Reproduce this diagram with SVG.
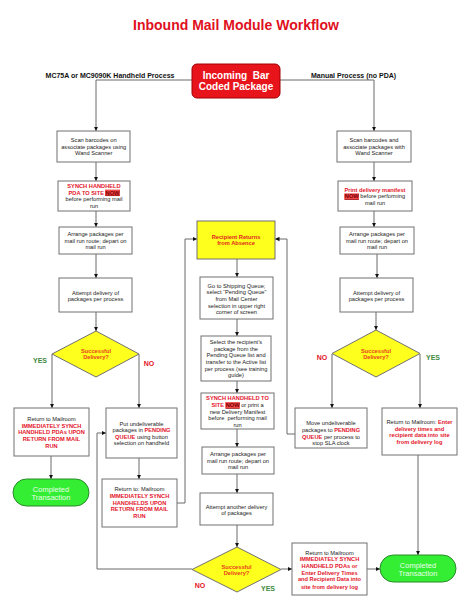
<svg xmlns="http://www.w3.org/2000/svg" width="474" height="607" viewBox="0 0 474 607">
<defs>
<marker id="ah" markerWidth="5" markerHeight="5" refX="4.5" refY="2.5" orient="auto" markerUnits="userSpaceOnUse"><path d="M0,0.3 L4.5,2.5 L0,4.7 Z" fill="#111"/></marker>
<style>
.box{fill:#fff;stroke:#707070;stroke-width:1}
.yel{fill:#ffff1e;stroke:#707070;stroke-width:1}
.pill{fill:#33ee33;stroke:#2a8a2a;stroke-width:1}
.t{font-family:"Liberation Sans",Arial,sans-serif;font-size:5.7px;fill:#222;text-anchor:middle}
.r{fill:#e3142a;font-weight:bold}
.o{fill:#e8401c;font-weight:bold}
.b{font-weight:bold}
.now{fill:#7a0000;font-weight:bold;text-decoration:underline}
.hl{fill:#f04848}
.pt{font-family:"Liberation Sans",Arial,sans-serif;font-size:7.5px;fill:#eaffea;text-anchor:middle}
.lab{font-family:"Liberation Sans",Arial,sans-serif;font-size:7px;font-weight:bold;text-anchor:middle}
.yes{fill:#3d8a3d}
.no{fill:#e3142a}
#connectors path{fill:none;stroke:#6a6a6a;stroke-width:1}
</style>
</defs>
<rect width="474" height="607" fill="#fff"/>
<text x="236" y="30" font-family="Liberation Sans,Arial,sans-serif" font-size="14" font-weight="bold" fill="#e0101e" text-anchor="middle">Inbound Mail Module Workflow</text>
<text class="lab" x="110" y="77.5" fill="#111">MC75A or MC9090K Handheld Process</text>
<text class="lab" x="353.5" y="77.5" fill="#111">Manual Process (no PDA)</text>

<g id="connectors">
<path d="M192,80 H96 V131" marker-end="url(#ah)"/>
<path d="M280,80 H374 V131" marker-end="url(#ah)"/>
<path d="M96,162 V181" marker-end="url(#ah)"/>
<path d="M96,211 V227" marker-end="url(#ah)"/>
<path d="M96,254 V278" marker-end="url(#ah)"/>
<path d="M96,312 V331" marker-end="url(#ah)"/>
<path d="M52,354 V408" marker-end="url(#ah)"/>
<path d="M139,354 V408" marker-end="url(#ah)"/>
<path d="M51,456 V479" marker-end="url(#ah)"/>
<path d="M139,458 V479" marker-end="url(#ah)"/>
<path d="M177,503 H185 V239 H197" marker-end="url(#ah)"/>
<path d="M192,569 H97 V433 H106" marker-end="url(#ah)"/>
<path d="M281,569 H292" marker-end="url(#ah)"/>
<path d="M367,569 H380" marker-end="url(#ah)"/>
<path d="M237,259 V277" marker-end="url(#ah)"/>
<path d="M237,319 V336" marker-end="url(#ah)"/>
<path d="M237,381 V393" marker-end="url(#ah)"/>
<path d="M237,429 V447" marker-end="url(#ah)"/>
<path d="M237,474 V493" marker-end="url(#ah)"/>
<path d="M237,525 V547" marker-end="url(#ah)"/>
<path d="M374,162 V181" marker-end="url(#ah)"/>
<path d="M374,211 V227" marker-end="url(#ah)"/>
<path d="M377,254 V278" marker-end="url(#ah)"/>
<path d="M376,312 V330" marker-end="url(#ah)"/>
<path d="M332,354 V408" marker-end="url(#ah)"/>
<path d="M420,354 V408" marker-end="url(#ah)"/>
<path d="M295,434 H287 V239 H275" marker-end="url(#ah)"/>
<path d="M418,455 V555" marker-end="url(#ah)"/>
</g>

<g id="incoming">
<rect x="192" y="64" width="88" height="34" rx="5" fill="#e8141c" stroke="#a00000" stroke-width="1"/>
<text x="236" y="78.6" font-family="Liberation Sans,Arial,sans-serif" font-size="10" font-weight="bold" fill="#fff" text-anchor="middle" xml:space="preserve">Incoming  Bar</text>
<text x="236" y="89.9" font-family="Liberation Sans,Arial,sans-serif" font-size="10" font-weight="bold" fill="#fff" text-anchor="middle">Coded Package</text>
</g>

<!-- Left column -->
<g id="L1">
<rect class="box" x="57" y="131" width="73" height="31"/>
<text class="t" x="93.7" y="142">Scan barcodes on</text>
<text class="t" x="93.7" y="148.7">associate packages using</text>
<text class="t" x="93.7" y="155.3">Wand Scanner</text>
</g>
<g id="L2">
<rect class="box" x="58" y="181" width="72" height="30"/>
<rect class="hl" x="105" y="189.6" width="15" height="6.4"/>
<text class="t r" x="94" y="188.2">SYNCH HANDHELD</text>
<text class="t r" x="94" y="194.5">PDA TO SITE <tspan class="now">NOW</tspan></text>
<text class="t" x="94" y="201.3">before performing mail</text>
<text class="t" x="94" y="208">run</text>
</g>
<g id="L3">
<rect class="box" x="59" y="227" width="73" height="27"/>
<text class="t" x="95.5" y="236.3">Arrange packages per</text>
<text class="t" x="95.5" y="242.7">mail run route; depart on</text>
<text class="t" x="95.5" y="249">mail run</text>
</g>
<g id="L4">
<rect class="box" x="59" y="278" width="73" height="34"/>
<text class="t" x="95.5" y="295.3">Attempt delivery of</text>
<text class="t" x="95.5" y="301.3">packages per process</text>
</g>
<g id="LD">
<polygon class="yel" points="96,331 139,354 96,377 52,354" fill="#ffff00"/>
<text class="t o" x="96" y="353">Successful</text>
<text class="t o" x="96" y="359.3">Delivery?</text>
</g>
<text class="lab yes" x="40" y="362.5">YES</text>
<text class="lab no" x="149" y="365.5">NO</text>
<g id="L5">
<rect class="box" x="14" y="408" width="75" height="48"/>
<text class="t" x="51.5" y="421.3">Return to Mailroom</text>
<text class="t r" x="51.5" y="427.7">IMMEDIATELY SYNCH</text>
<text class="t r" x="51.5" y="434">HANDHELD PDAs UPON</text>
<text class="t r" x="51.5" y="440.7">RETURN FROM MAIL</text>
<text class="t r" x="51.5" y="447.7">RUN</text>
</g>
<g id="L6">
<rect class="box" x="106" y="408" width="71" height="50"/>
<text class="t" x="141.5" y="426">Put undeliverable</text>
<text class="t" x="141.5" y="432.3">packages in <tspan class="r">PENDING</tspan></text>
<text class="t" x="141.5" y="438.6"><tspan class="r">QUEUE</tspan> using button</text>
<text class="t" x="141.5" y="445">selection on handheld</text>
</g>
<g id="LP">
<rect class="pill" x="13" y="479" width="76" height="27" rx="13.5"/>
<text class="pt" x="51" y="492">Completed</text>
<text class="pt" x="51" y="500">Transaction</text>
</g>
<g id="L7">
<rect class="box" x="102" y="479" width="75" height="48"/>
<text class="t" x="139.5" y="491.3">Return to: Mailroom</text>
<text class="t r" x="139.5" y="498">IMMEDIATELY SYNCH</text>
<text class="t r" x="139.5" y="504.7">HANDHELDS UPON</text>
<text class="t r" x="139.5" y="511.3">RETURN FROM MAIL</text>
<text class="t r" x="139.5" y="518.3">RUN</text>
</g>

<!-- Middle column -->
<g id="M0">
<rect class="yel" x="197" y="221" width="78" height="38"/>
<text class="t r" x="236" y="238.7" style="fill:#e0281c">Recipient Returns</text>
<text class="t r" x="236" y="245.3" style="fill:#e0281c">from Absence</text>
</g>
<g id="M1">
<rect class="box" x="200" y="277" width="73" height="42"/>
<text class="t" x="236.5" y="288">Go to Shipping Queue;</text>
<text class="t" x="236.5" y="294.3">select “Pending Queue”</text>
<text class="t" x="236.5" y="301">from Mail Center</text>
<text class="t" x="236.5" y="307.7">selection in upper right</text>
<text class="t" x="236.5" y="314.3">corner of screen</text>
</g>
<g id="M2">
<rect class="box" x="201" y="336" width="70" height="45"/>
<text class="t" x="236" y="344.3">Select the recipient’s</text>
<text class="t" x="236" y="350.7">package from the</text>
<text class="t" x="236" y="357.3">Pending Queue list and</text>
<text class="t" x="236" y="364">transfer to the Active list</text>
<text class="t" x="236" y="370.7">per process (see training</text>
<text class="t" x="236" y="377.3">guide)</text>
</g>
<g id="M3">
<rect class="box" x="201" y="393" width="73" height="36"/>
<rect class="hl" x="225.3" y="402.1" width="14.6" height="6.4"/>
<text class="t r" x="237.5" y="400.3">SYNCH HANDHELD TO</text>
<text class="t" x="237.5" y="407"><tspan class="r">SITE </tspan><tspan class="now">NOW</tspan> or print a</text>
<text class="t" x="237.5" y="413.7">new Delivery Manifest</text>
<text class="t" x="237.5" y="420.3" xml:space="preserve">before  performing mail</text>
<text class="t" x="237.5" y="427">run</text>
</g>
<g id="M4">
<rect class="box" x="202" y="447" width="72" height="27"/>
<text class="t" x="238" y="456">Arrange packages per</text>
<text class="t" x="238" y="462.7">mail run route; depart on</text>
<text class="t" x="238" y="469.3">mail run</text>
</g>
<g id="M5">
<rect class="box" x="200" y="493" width="73" height="32"/>
<text class="t" x="236.5" y="508.7">Attempt another delivery</text>
<text class="t" x="236.5" y="515">of packages</text>
</g>
<g id="MD">
<polygon class="yel" points="237,547 281,569.5 237,592 192,569.5" fill="#ffff00"/>
<text class="t o" x="236.5" y="568.7">Successful</text>
<text class="t o" x="236.5" y="575.3">Delivery?</text>
</g>
<text class="lab no" x="200" y="587.5">NO</text>
<text class="lab yes" x="268" y="590.5">YES</text>
<g id="M6">
<rect class="box" x="292" y="543" width="75" height="52"/>
<text class="t" x="329.5" y="554.7">Return to Mailroom</text>
<text class="t r" x="329.5" y="561.3">IMMEDIATELY SYNCH</text>
<text class="t r" x="329.5" y="568">HANDHELD PDAs or</text>
<text class="t r" x="329.5" y="574.7">Enter Delivery Times</text>
<text class="t r" x="329.5" y="581.3">and Recipient Data into</text>
<text class="t r" x="329.5" y="588.7">site from delivery log</text>
</g>
<g id="RP">
<rect class="pill" x="380" y="555" width="76" height="27" rx="13.5"/>
<text class="pt" x="418" y="567.7">Completed</text>
<text class="pt" x="418" y="576">Transaction</text>
</g>

<!-- Right column -->
<g id="R1">
<rect class="box" x="337" y="131" width="74" height="31"/>
<text class="t" x="374" y="142">Scan barcodes and</text>
<text class="t" x="374" y="148.7">associate packages with</text>
<text class="t" x="374" y="155.3">Wand Scanner</text>
</g>
<g id="R2">
<rect class="box" x="338" y="181" width="74" height="30"/>
<rect class="hl" x="344.2" y="193.4" width="14.8" height="6.4"/>
<text class="t r" x="375" y="192">Print delivery manifest</text>
<text class="t" x="375" y="198.3"><tspan class="now">NOW</tspan> before performing</text>
<text class="t" x="375" y="205">mail run</text>
</g>
<g id="R3">
<rect class="box" x="340" y="227" width="74" height="27"/>
<text class="t" x="377" y="236.3">Arrange packages per</text>
<text class="t" x="377" y="242.7">mail run route; depart on</text>
<text class="t" x="377" y="249">mail run</text>
</g>
<g id="R4">
<rect class="box" x="340" y="278" width="73" height="34"/>
<text class="t" x="376.5" y="295.3">Attempt delivery of</text>
<text class="t" x="376.5" y="301.3">packages per process</text>
</g>
<g id="RD">
<polygon class="yel" points="376,330 420,353.5 376,377 332,353.5" fill="#ffff00"/>
<text class="t o" x="376" y="353">Successful</text>
<text class="t o" x="376" y="359.3">Delivery?</text>
</g>
<text class="lab no" x="322" y="359.5">NO</text>
<text class="lab yes" x="433" y="359.5">YES</text>
<g id="R5">
<rect class="box" x="295" y="408" width="72" height="40"/>
<text class="t" x="331" y="425.3">Move undeliverable</text>
<text class="t" x="331" y="432">packages to <tspan class="r">PENDING</tspan></text>
<text class="t" x="331" y="438.7"><tspan class="r">QUEUE</tspan> per process to</text>
<text class="t" x="331" y="445.3">stop SLA clock</text>
</g>
<g id="R6">
<rect class="box" x="382" y="408" width="75" height="47"/>
<text class="t" x="419.5" y="423.7">Return to Mailroom:  <tspan class="r">Enter</tspan></text>
<text class="t r" x="419.5" y="430.7">delivery times and</text>
<text class="t r" x="419.5" y="437.3">recipient data into site</text>
<text class="t r" x="419.5" y="444">from delivery log</text>
</g>
</svg>
